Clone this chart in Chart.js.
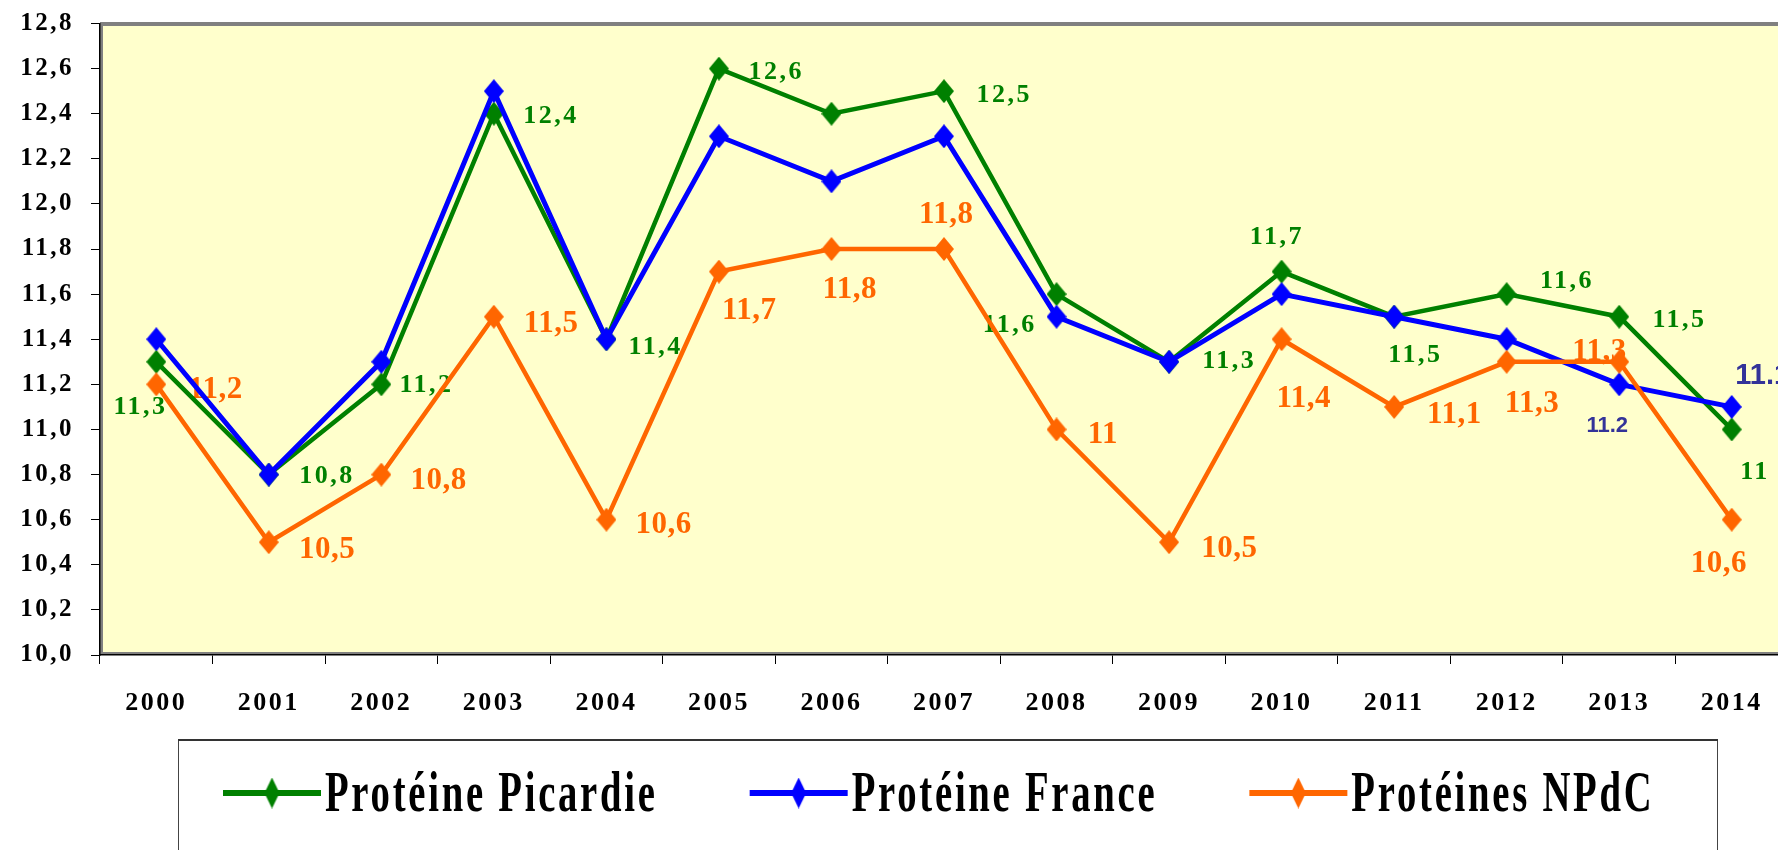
<!DOCTYPE html>
<html><head><meta charset="utf-8">
<script src="https://cdn.jsdelivr.net/npm/chart.js@4.4.0/dist/chart.umd.min.js"></script>
<style>
html,body{margin:0;padding:0;background:#fff;overflow:hidden;width:1778px;height:850px;}
#wrap{position:absolute;left:0;top:0;width:1803px;height:850px;}
canvas{display:block;}
</style></head><body>
<div id="wrap"><canvas id="c" width="1803" height="850"></canvas></div>
<script>
// ---- data ----
const years = ['2000','2001','2002','2003','2004','2005','2006','2007','2008','2009','2010','2011','2012','2013','2014'];
const picardie = [11.3,10.8,11.2,12.4,11.4,12.6,12.4,12.5,11.6,11.3,11.7,11.5,11.6,11.5,11.0];
const france   = [11.4,10.8,11.3,12.5,11.4,12.3,12.1,12.3,11.5,11.3,11.6,11.5,11.4,11.2,11.1];
const npdc     = [11.2,10.5,10.8,11.5,10.6,11.7,11.8,11.8,11.0,10.5,11.4,11.1,11.3,11.3,10.6];
const seriesNames = ['Protéine Picardie','Protéine France','Protéines NPdC'];
const yMin = 10, yMax = 12.8, yStep = 0.2;

// ---- label placement (offset of label centre from point, px; null = no label) ----
const picardieLabelOffsets = [[-17,43],[57,0],[44,-1],[56,0],[48,6],[56,2],null,[59,2],[-48,29],[59,-3],[-6,-36],[20,37],[59,-15],[59,2],[22,41]];
const franceLabelOffsets   = [null,null,null,null,null,null,null,null,null,null,null,null,null,[-12,40],[31,-33]];
const franceLabelSizes     = [22,22,22,22,22,22,22,22,22,22,22,22,22,22,29];
const npdcLabelOffsets     = [[59,3],[58,5],[57,4],[57,5],[57,3],[30,37],[18,38],[2,-37],[46,3],[60,4],[22,57],[60,6],[25,40],[-20,-12],[-13,42]];

const SERIF = '"Liberation Serif","Times New Roman",serif';
const SANS = '"Liberation Sans",Arial,sans-serif';
const GREEN = '#008000', BLUE = '#0000FF', ORANGE = '#FF6600';

function diamond(color, w, h) {
  const c = document.createElement('canvas');
  c.width = w; c.height = h;
  const g = c.getContext('2d');
  g.fillStyle = color;
  g.beginPath();
  g.moveTo(w/2, 0); g.lineTo(w, h/2); g.lineTo(w/2, h); g.lineTo(0, h/2);
  g.closePath(); g.fill();
  return c;
}

const commaFmt = v => String(v).replace('.', ',');

const framePlugin = {
  id: 'frame',
  beforeDraw(chart) {
    const {ctx, chartArea: a} = chart;
    ctx.save();
    ctx.fillStyle = '#FFFFCC';
    ctx.fillRect(a.left, a.top, a.right - a.left, a.bottom - a.top);
    ctx.fillStyle = '#808080';
    ctx.fillRect(a.left, a.top - 1.5, a.right - a.left, 4);
    ctx.fillRect(a.left, a.top, 3, a.bottom - a.top);
    ctx.fillRect(a.left, a.bottom - 3, a.right - a.left, 3);
    ctx.restore();
    ctx.letterSpacing = '2.5px';
  },
  afterDraw(chart) {
    const ctx = chart.ctx;
    ctx.letterSpacing = '0px';
    // legend
    const boxL = 178, boxT = 740, boxR = 1718;
    ctx.save();
    ctx.fillStyle = '#fff';
    ctx.fillRect(boxL, boxT, boxR - boxL, 120);
    ctx.strokeStyle = '#444';
    ctx.lineWidth = 1;
    ctx.strokeRect(boxL + 0.5, boxT + 0.5, boxR - boxL - 1, 200);
    ctx.fillStyle = '#333';
    ctx.fillRect(boxL, boxT - 1, boxR - boxL, 2);
    let x = 223;
    const ly = 793, sx = 0.69;
    chart.data.datasets.forEach(ds => {
      ctx.strokeStyle = ds.borderColor;
      ctx.lineWidth = 6;
      ctx.beginPath(); ctx.moveTo(x, ly); ctx.lineTo(x + 98, ly); ctx.stroke();
      ctx.drawImage(diamond(ds.borderColor, 15, 31), x + 49 - 7.5, ly - 15.5);
      const tx = x + 102;
      ctx.font = 'bold 56px ' + SERIF;
      ctx.letterSpacing = '4px';
      ctx.fillStyle = '#000';
      ctx.textBaseline = 'alphabetic';
      ctx.textAlign = 'left';
      const w = ctx.measureText(ds.label).width * sx;
      ctx.save();
      ctx.translate(tx, 811);
      ctx.scale(sx, 1);
      ctx.fillText(ds.label, 0, 0);
      ctx.restore();
      x = tx + w + 92;
    });
    ctx.restore();
  }
};

const labelPlugin = {
  id: 'pointLabels',
  beforeDatasetsDraw(chart) {
    const ctx = chart.ctx;
    chart.data.datasets.forEach((ds, di) => {
      const st = ds.labelStyle;
      const meta = chart.getDatasetMeta(di);
      meta.data.forEach((pt, i) => {
        const off = st.offsets[i];
        if (!off) return;
        const txt = st.format(ds.data[i]);
        const size = st.sizes ? st.sizes[i] : st.size;
        ctx.save();
        ctx.font = 'bold ' + size + 'px ' + st.family;
        ctx.letterSpacing = st.spacing + 'px';
        ctx.fillStyle = st.color;
        ctx.textAlign = 'left';
        ctx.textBaseline = 'alphabetic';
        const w = ctx.measureText(txt).width - st.spacing;
        const cap = size * st.capRatio;
        ctx.fillText(txt, pt.x + off[0] - w / 2, pt.y + off[1] + cap / 2);
        ctx.restore();
      });
    });
  }
};

new Chart(document.getElementById('c'), {
  type: 'line',
  data: {
    labels: years,
    datasets: [
      {label: seriesNames[0], data: picardie, borderColor: GREEN, backgroundColor: GREEN, borderWidth: 4.5,
       pointStyle: diamond(GREEN, 20, 24), pointRadius: 10, order: 3, tension: 0,
       labelStyle: {offsets: picardieLabelOffsets, format: commaFmt, size: 26, family: SERIF, spacing: 2.5, color: GREEN, capRatio: 0.676}},
      {label: seriesNames[1], data: france, borderColor: BLUE, backgroundColor: BLUE, borderWidth: 5,
       pointStyle: diamond(BLUE, 20, 24), pointRadius: 10, order: 2, tension: 0,
       labelStyle: {offsets: franceLabelOffsets, format: v => v.toFixed(1), sizes: franceLabelSizes, family: SANS, spacing: 0, color: '#333399', capRatio: 0.716}},
      {label: seriesNames[2], data: npdc, borderColor: ORANGE, backgroundColor: ORANGE, borderWidth: 4.5,
       pointStyle: diamond(ORANGE, 20, 24), pointRadius: 10, order: 1, tension: 0,
       labelStyle: {offsets: npdcLabelOffsets, format: commaFmt, size: 31, family: SERIF, spacing: 0.5, color: ORANGE, capRatio: 0.676}}
    ]
  },
  options: {
    responsive: false,
    animation: false,
    events: [],
    layout: {padding: {top: 23.5, right: 2.5, bottom: 0, left: 0}},
    plugins: {legend: {display: false}, tooltip: {enabled: false}},
    scales: {
      x: {
        type: 'category', offset: true,
        grid: {offset: true, drawOnChartArea: false, drawTicks: true, tickLength: 9, color: '#000', lineWidth: 1},
        border: {display: true, color: '#000', width: 1.5},
        ticks: {font: {family: SERIF, size: 26, weight: 'bold'}, color: '#000', padding: 24, maxRotation: 0, autoSkip: false},
        afterFit(s) { s.height = 195; s.paddingLeft = 0; s.paddingRight = 0; }
      },
      y: {
        min: yMin, max: yMax,
        grid: {drawOnChartArea: false, drawTicks: true, tickLength: 9, color: '#000', lineWidth: 1},
        border: {display: true, color: '#000', width: 1.5},
        ticks: {stepSize: yStep, font: {family: SERIF, size: 25, weight: 'bold'}, color: '#000', padding: 17,
                callback: v => Number(v).toFixed(1).replace('.', ',')},
        afterFit(s) { s.width = 100; s.paddingTop = 0; s.paddingBottom = 0; }
      }
    }
  },
  plugins: [framePlugin, labelPlugin]
});
</script>
</body></html>
